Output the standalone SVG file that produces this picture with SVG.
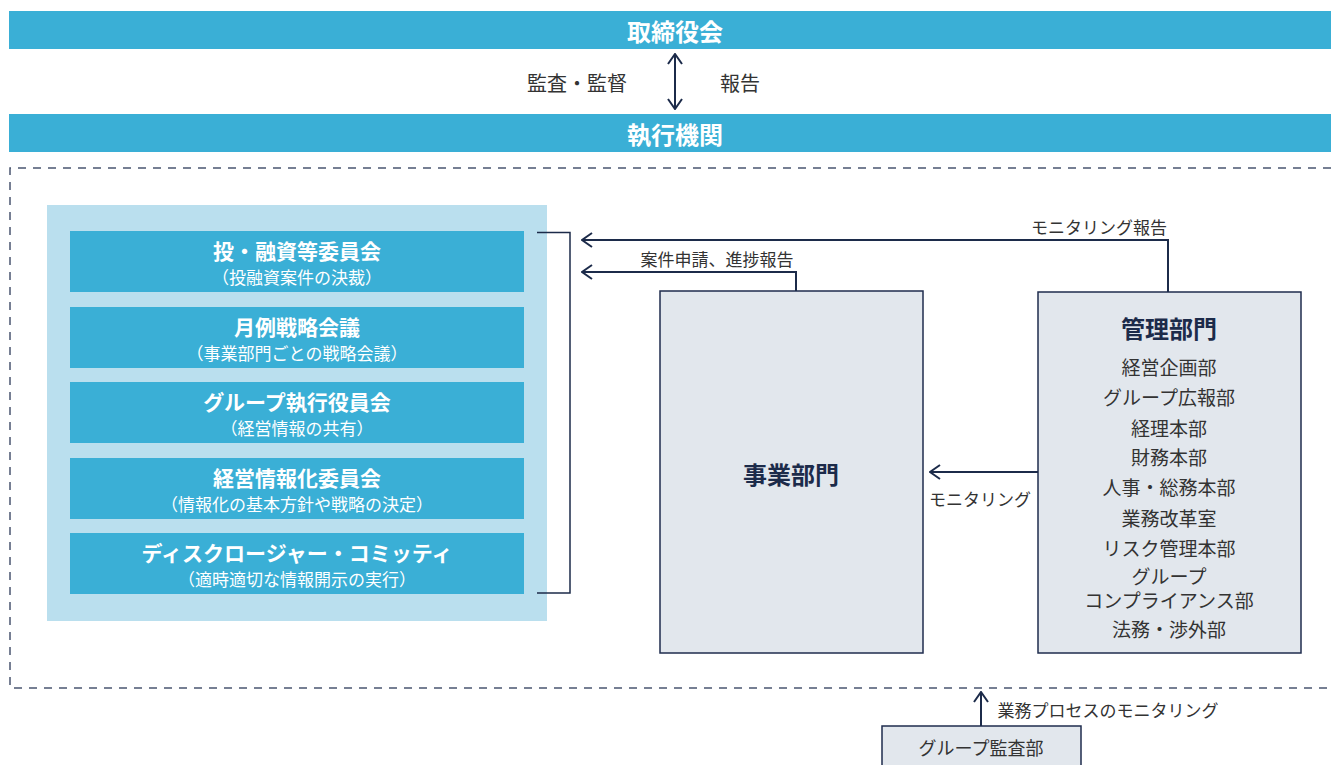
<svg xmlns="http://www.w3.org/2000/svg" width="1331" height="765" viewBox="0 0 1331 765">
<defs>
<style>
text{font-family:"Noto Sans CJK JP","Noto Sans",sans-serif;text-anchor:middle;dominant-baseline:central}
.bar{fill:#3aafd6}
.barT{fill:#ffffff;font-size:24px;font-weight:bold}
.cm{fill:#3aafd6}
.cmT{fill:#ffffff;font-size:21px;font-weight:bold}
.cmS{fill:#ffffff;font-size:17px}
.gb{fill:#e2e7ed;stroke:#1f2d4e;stroke-width:1.5}
.gt{fill:#1c2b4a;font-size:24px;font-weight:bold}
.it{fill:#333333;font-size:19px}
.lb{fill:#333333;font-size:17px}
.ln{fill:none;stroke:#1c2b4a;stroke-width:2}
.ln1{fill:none;stroke:#1c2b4a;stroke-width:1.5}
</style>
<marker id="ah" viewBox="0 0 12 16" refX="11" refY="8" markerWidth="12" markerHeight="16" markerUnits="userSpaceOnUse" orient="auto-start-reverse">
<path d="M1,1 L11,8 L1,15" fill="none" stroke="#1c2b4a" stroke-width="2"/>
</marker>
</defs>

<g id="board">
<rect class="bar" x="9" y="11" width="1322" height="38"/>
<text class="barT" x="675" y="30">取締役会</text>
</g>
<g id="exec">
<rect class="bar" x="9" y="114" width="1322" height="38"/>
<text class="barT" x="675" y="133">執行機関</text>
</g>

<g id="frame">
<path d="M1331,168 H10 V688 H1331" fill="none" stroke="#4a5670" stroke-width="1.5" stroke-dasharray="8,7"/>
</g>

<g id="committees">
<rect x="47" y="205" width="500" height="416" fill="#badfee"/>
<g id="c1"><rect class="cm" x="70" y="231" width="454" height="61"/>
<text class="cmT" x="297" y="250">投・融資等委員会</text>
<text class="cmS" x="297" y="276">（投融資案件の決裁）</text></g>
<g id="c2"><rect class="cm" x="70" y="307" width="454" height="61"/>
<text class="cmT" x="297" y="326">月例戦略会議</text>
<text class="cmS" x="297" y="352">（事業部門ごとの戦略会議）</text></g>
<g id="c3"><rect class="cm" x="70" y="382" width="454" height="61"/>
<text class="cmT" x="297" y="401">グループ執行役員会</text>
<text class="cmS" x="297" y="427">（経営情報の共有）</text></g>
<g id="c4"><rect class="cm" x="70" y="458" width="454" height="61"/>
<text class="cmT" x="297" y="477">経営情報化委員会</text>
<text class="cmS" x="297" y="503">（情報化の基本方針や戦略の決定）</text></g>
<g id="c5"><rect class="cm" x="70" y="533" width="454" height="61"/>
<text class="cmT" x="297" y="552">ディスクロージャー・コミッティ</text>
<text class="cmS" x="297" y="578">（適時適切な情報開示の実行）</text></g>
</g>

<g id="jigyo">
<rect class="gb" x="660" y="291" width="263" height="362"/>
<text class="gt" x="791" y="473">事業部門</text>
</g>

<g id="kanri">
<rect class="gb" x="1038" y="292" width="263" height="361"/>
<text class="gt" x="1169" y="327">管理部門</text>
<text class="it" x="1169" y="366">経営企画部</text>
<text class="it" x="1169" y="396">グループ広報部</text>
<text class="it" x="1169" y="427">経理本部</text>
<text class="it" x="1169" y="456">財務本部</text>
<text class="it" x="1169" y="486">人事・総務本部</text>
<text class="it" x="1169" y="517">業務改革室</text>
<text class="it" x="1169" y="547">リスク管理本部</text>
<text class="it"><tspan x="1169" y="575">グループ</tspan><tspan x="1169" y="599">コンプライアンス部</tspan></text>
<text class="it" x="1169" y="628">法務・渉外部</text>
</g>

<g id="audit">
<rect class="gb" x="882" y="726" width="199" height="45"/>
<text class="it" x="981" y="747" style="font-size:18px">グループ監査部</text>
</g>

<g id="connectors">
<path class="ln" d="M675,54 V109" marker-start="url(#ah)" marker-end="url(#ah)"/>
<path class="ln1" d="M537,232.5 H570 V593 H537"/>
<path class="ln" d="M1168,292 V240 H582" marker-end="url(#ah)"/>
<path class="ln" d="M796,291 V272 H582" marker-end="url(#ah)"/>
<path class="ln" d="M1038,472 H930" marker-end="url(#ah)"/>
<path class="ln" d="M981,726 V692" marker-end="url(#ah)"/>
</g>

<g id="labels">
<text class="lb" x="577" y="82" style="font-size:20px">監査・監督</text>
<text class="lb" x="740" y="82" style="font-size:20px">報告</text>
<text class="lb" x="717" y="258">案件申請、進捗報告</text>
<text class="lb" x="1099" y="226">モニタリング報告</text>
<text class="lb" x="980" y="498">モニタリング</text>
<text class="lb" x="1108" y="709">業務プロセスのモニタリング</text>
</g>
</svg>
